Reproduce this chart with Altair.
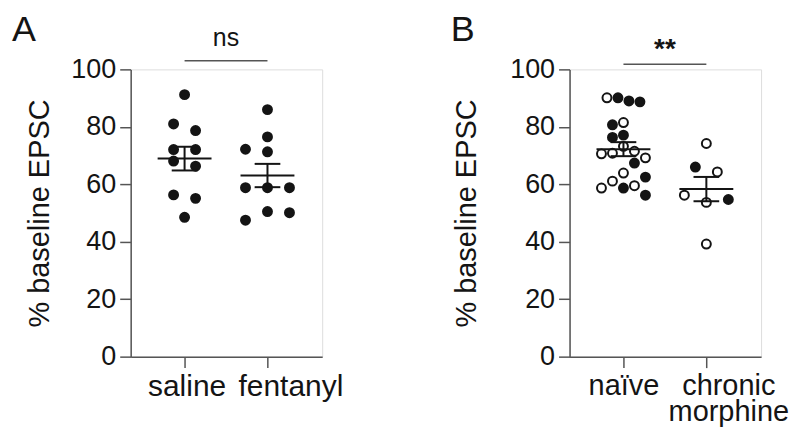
import altair as alt
import pandas as pd

# ---------------- data ----------------
groups_A = ["saline", "fentanyl"]
saline_vals = [91.2, 81.0, 78.7, 72.1, 72.1, 68.1, 66.3, 56.3, 55.1, 48.5]
saline_col = [0, -2, 2, -2, 2, -2, 2, -2, 2, 0]
fentanyl_vals = [86.0, 76.5, 72.2, 71.3, 58.8, 58.8, 58.8, 50.5, 50.1, 47.5]
fentanyl_col = [0, 0, -4, 0, -4, 0, 4, 0, 4, -4]

groups_B = ["naïve", "chronic morphine"]
naive_vals = [90.1, 90.1, 89.0, 88.7, 80.7, 81.5, 76.3, 77.1, 73.2, 70.6, 70.8,
              71.5, 67.4, 69.2, 63.9, 62.5, 58.7, 61.1, 58.7, 59.5, 56.2]
naive_col = [-3, -1, 1, 3, -2, 0, -2, 0, 0, -4, -2, 2, 2, 4, 0, 4, -4, -2, 0, 2, 4]
naive_open = [1, 0, 0, 0, 0, 1, 0, 0, 1, 1, 1, 1, 0, 1, 1, 0, 1, 1, 0, 1, 0]
morph_vals = [74.2, 66.0, 64.3, 56.2, 53.7, 54.7, 39.2]
morph_col = [0, -2, 2, -4, 0, 4, 0]
morph_open = [1, 0, 1, 1, 1, 0, 1]

sig_A = "ns"
sig_B = "**"
y_ticks = [0, 20, 40, 60, 80, 100]

# ---------------- tables ----------------
def make_df(g1, v1, c1, o1, g2, v2, c2, o2):
    rows = []
    for v, c, o in zip(v1, c1, o1):
        rows.append({"group": g1, "idx": 1, "value": v, "col": c, "kind": "open" if o else "filled"})
    for v, c, o in zip(v2, c2, o2):
        rows.append({"group": g2, "idx": 2, "value": v, "col": c, "kind": "open" if o else "filled"})
    return pd.DataFrame(rows)

dfA = make_df(groups_A[0], saline_vals, saline_col, [0] * len(saline_vals),
              groups_A[1], fentanyl_vals, fentanyl_col, [0] * len(fentanyl_vals))
dfB = make_df(groups_B[0], naive_vals, naive_col, naive_open,
              groups_B[1], morph_vals, morph_col, morph_open)

FONT = "Liberation Sans"
INK = "#141414"
AXIS = "#555555"
W, H = 192, 288
XDOM = [0.35, 2.66]
COL_UNIT = 0.0663


def panel(df, label_expr, off1, off2, xfs, letter, sig, sig_y, sig_size, sig_bold, sig_line_y, title_pad):
    xs = alt.Scale(domain=XDOM, nice=False, zero=False)
    ys = alt.Scale(domain=[0, 100], nice=False)
    xaxis = alt.Axis(values=[1, 2], labelExpr=label_expr, title=None, grid=False,
                     labelFontSize=xfs, labelFont=FONT, labelColor=INK, labelPadding=4,
                     labelLineHeight=26, tickSize=11, tickColor=AXIS, domainColor=AXIS,
                     tickWidth=1.5, domainWidth=1.5, labelAngle=0,
                     labelOffset={"condition": {"test": "datum.value == 2", "value": off2},
                                  "value": off1})
    yaxis = alt.Axis(values=y_ticks, title="% baseline EPSC", grid=False,
                     labelFontSize=27, labelFont=FONT, labelColor=INK, labelPadding=4,
                     titleFontSize=29, titleFont=FONT, titleFontWeight="normal",
                     titleColor=INK, titlePadding=title_pad,
                     tickSize=11, tickColor=AXIS, domainColor=AXIS,
                     tickWidth=1.5, domainWidth=1.5)

    base = alt.Chart(df)
    pts = base.transform_calculate(
        xpos=f"datum.idx + datum.col * {COL_UNIT}"
    ).mark_point(shape="circle", size=80, strokeWidth=2, opacity=1, stroke=INK).encode(
        x=alt.X("xpos:Q", scale=xs, axis=xaxis),
        y=alt.Y("value:Q", scale=ys, axis=yaxis),
        fill=alt.Fill("kind:N", scale=alt.Scale(domain=["filled", "open"], range=[INK, "white"]),
                      legend=None),
    )

    stats = base.transform_aggregate(
        mean="mean(value)", sem="stderr(value)", groupby=["idx"]
    ).transform_calculate(
        lo="datum.mean - datum.sem", hi="datum.mean + datum.sem",
        mx1="datum.idx - 0.325", mx2="datum.idx + 0.325",
        cx1="datum.idx - 0.155", cx2="datum.idx + 0.155",
    )
    mean_line = stats.mark_rule(color=INK, strokeWidth=2).encode(
        x=alt.X("mx1:Q", scale=xs), x2="mx2:Q", y=alt.Y("mean:Q", scale=ys))
    vline = stats.mark_rule(color=INK, strokeWidth=2).encode(
        x=alt.X("idx:Q", scale=xs), y=alt.Y("lo:Q", scale=ys), y2="hi:Q")
    cap_hi = stats.mark_rule(color=INK, strokeWidth=2).encode(
        x=alt.X("cx1:Q", scale=xs), x2="cx2:Q", y=alt.Y("hi:Q", scale=ys))
    cap_lo = stats.mark_rule(color=INK, strokeWidth=2).encode(
        x=alt.X("cx1:Q", scale=xs), x2="cx2:Q", y=alt.Y("lo:Q", scale=ys))

    sig_line = alt.Chart(pd.DataFrame({"a": [1], "b": [2], "y": [sig_line_y]})).mark_rule(
        color=AXIS, strokeWidth=1.5).encode(
        x=alt.X("a:Q", scale=xs), x2="b:Q", y=alt.Y("y:Q", scale=ys))
    sig_text = alt.Chart(pd.DataFrame({"x": [1.5], "y": [sig_y], "t": [sig]})).mark_text(
        font=FONT, fontSize=sig_size, fontWeight="bold" if sig_bold else "normal",
        color=INK, baseline="alphabetic", align="center").encode(
        x=alt.X("x:Q", scale=xs), y=alt.Y("y:Q", scale=ys), text="t:N")
    letter_t = alt.Chart(pd.DataFrame({"t": [letter]})).mark_text(
        font=FONT, fontSize=36, color=INK, align="left", baseline="alphabetic").encode(
        x=alt.value(-119), y=alt.value(-28), text="t:N")

    return alt.layer(pts, mean_line, vline, cap_hi, cap_lo, sig_line, sig_text, letter_t).properties(
        width=W, height=H)


labA = f"datum.value == 1 ? '{groups_A[0]}' : '{groups_A[1]}'"
labB = "datum.value == 1 ? '" + groups_B[0] + "' : " + str(groups_B[1].split(" "))
pA = panel(dfA, labA, 2, 23, 30, "A", sig_A, 108.3, 25, False, 103.0, 16)
pB = panel(dfB, labB, 0, 22, 29, "B", sig_B, 104.0, 28, True, 101.8, 28)

chart = alt.hconcat(pA, pB, spacing=106).configure_view(stroke=None).configure(
    padding={"left": 3, "top": 3, "right": 0, "bottom": 0})

chart.save("out.html", embed_options={"renderer": "svg", "actions": False})
